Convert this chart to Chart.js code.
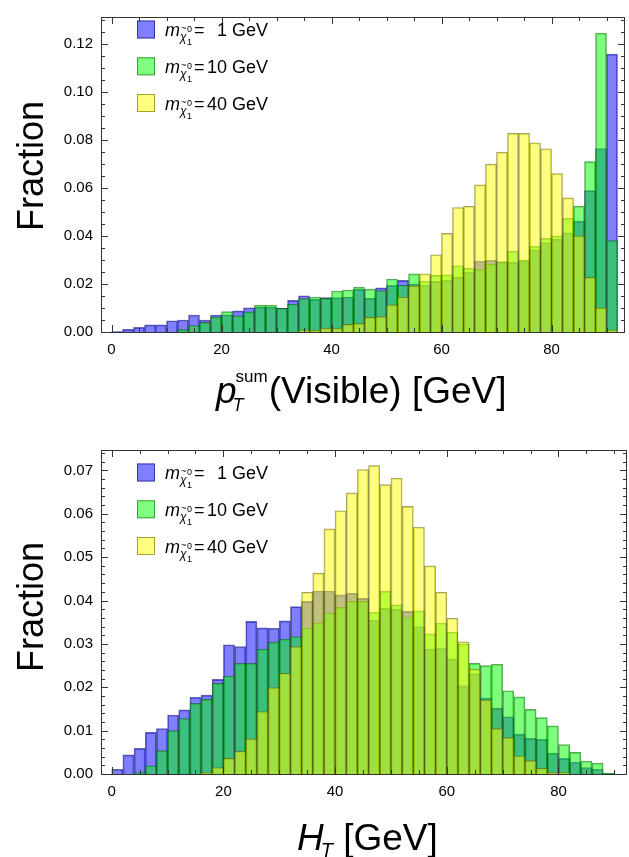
<!DOCTYPE html>
<html>
<head>
<meta charset="utf-8">
<title>Fraction histograms</title>
<script src="https://cdn.jsdelivr.net/npm/chart.js@4.4.1/dist/chart.umd.min.js"></script>
<style>
    body{ margin:0; background:#fff; }
    .panel{ position:absolute; left:0; }
</style>
</head>
<body>
<canvas id="ptChart" class="panel" width="629" height="425" style="top:0"></canvas>
<canvas id="htChart" class="panel" width="629" height="427" style="top:430px"></canvas>
<script>
/* =========================
   DATA (2 GeV bins, centres)
========================= */

const binCenters = [1,3,5,7,9,11,13,15,17,19,21,23,25,27,29,31,33,35,37,39,41,43,45,47,49,
                    51,53,55,57,59,61,63,65,67,69,71,73,75,77,79,81,83,85,87,89,91];

const massLabels = ["1", "10", "40"];

const xTicks = [0, 20, 40, 60, 80];
const ptYTicks = [0, 0.02, 0.04, 0.06, 0.08, 0.10, 0.12];
const htYTicks = [0, 0.01, 0.02, 0.03, 0.04, 0.05, 0.06, 0.07];

// p_T^sum(Visible)
const ptBlue = [0.0002,0.0011,0.0019,0.0030,0.0030,0.0047,0.0050,0.0071,0.0050,0.0071,
                0.0072,0.0088,0.0101,0.0104,0.0104,0.0100,0.0132,0.0151,0.0136,0.0143,
                0.0143,0.0146,0.0178,0.0140,0.0184,0.0195,0.0215,0.0200,0.0195,0.0211,
                0.0215,0.0229,0.0250,0.0296,0.0299,0.0292,0.0290,0.0296,0.0343,0.0373,
                0.0387,0.0413,0.0462,0.0589,0.0765,0.1158];
const ptGreen = [0,0,0,0,0,0,0.0010,0.0027,0.0040,0.0063,
                 0.0085,0.0067,0.0084,0.0112,0.0112,0.0099,0.0116,0.0139,0.0146,0.0140,
                 0.0171,0.0175,0.0187,0.0179,0.0173,0.0221,0.0195,0.0242,0.0212,0.0236,
                 0.0238,0.0276,0.0265,0.0260,0.0283,0.0292,0.0337,0.0300,0.0357,0.0390,
                 0.0401,0.0474,0.0525,0.0710,0.1246,0.0381];
const ptYellow = [0,0,0,0,0,0,0,0,0,0,
                  0,0,0,0,0,0,0,0.0009,0.0007,0.0016,
                  0.0016,0.0032,0.0036,0.0061,0.0064,0.0113,0.0146,0.0192,0.0242,0.0322,
                  0.0411,0.0519,0.0524,0.0613,0.0700,0.0750,0.0828,0.0828,0.0788,0.0764,
                  0.0660,0.0559,0.0401,0.0228,0.0101,0.0009];

// H_T
const htBlue = [0.0011,0.0044,0.0059,0.0096,0.0105,0.0136,0.0148,0.0177,0.0182,0.0218,
                0.0298,0.0294,0.0352,0.0337,0.0336,0.0353,0.0386,0.0398,0.0422,0.0422,
                0.0413,0.0417,0.0405,0.0355,0.0382,0.0380,0.0375,0.0340,0.0288,0.0290,
                0.0265,0.0203,0.0231,0.0175,0.0152,0.0132,0.0092,0.0082,0.0080,0.0048,
                0.0036,0.0027,0.0015,0.0011,0.0001];
const htGreen = [0,0,0.0003,0.0019,0.0054,0.0100,0.0128,0.0163,0.0172,0.0209,
                 0.0226,0.0255,0.0255,0.0288,0.0304,0.0311,0.0317,0.0336,0.0348,0.0371,
                 0.0384,0.0398,0.0398,0.0373,0.0421,0.0390,0.0362,0.0376,0.0323,0.0348,
                 0.0327,0.0300,0.0255,0.0250,0.0253,0.0192,0.0178,0.0149,0.0130,0.0111,
                 0.0068,0.0050,0.0030,0.0025,0.0002];
const htYellow = [0,0,0,0,0,0,0,0,0.0003,0.0015,
                  0.0036,0.0052,0.0081,0.0144,0.0199,0.0232,0.0294,0.0419,0.0463,0.0565,
                  0.0607,0.0648,0.0702,0.0711,0.0667,0.0682,0.0617,0.0569,0.0480,0.0419,
                  0.0359,0.0305,0.0242,0.0171,0.0105,0.0084,0.0042,0.0031,0.0013,0.0003,
                  0.0004,0,0,0,0];

/* =========================
   STYLE
========================= */

const FONT = "'Liberation Sans', Arial, Helvetica, sans-serif";

const colors = [
    { fill:"rgba(0,0,255,0.5)",   edge:"rgba(0,0,110,0.6)" },
    { fill:"rgba(0,255,0,0.5)",   edge:"rgba(0,100,0,0.6)" },
    { fill:"rgba(255,255,0,0.5)", edge:"rgba(100,100,0,0.6)" }
];

/* =========================
   DRAW HELPERS
========================= */

function drawFraction(ctx, cx, cy){
    ctx.save();
    ctx.translate(cx, cy);
    ctx.rotate(-Math.PI / 2);
    ctx.font = "36px " + FONT;
    ctx.fillStyle = "#000";
    ctx.textAlign = "center";
    ctx.textBaseline = "alphabetic";
    ctx.fillText("Fraction", 0, 0);
    ctx.restore();
}

function drawLegend(ctx, left, rows){
    ctx.save();
    ctx.textBaseline = "alphabetic";
    rows.forEach((cy, i)=>{
        ctx.fillStyle = colors[i].fill;
        ctx.fillRect(left, cy - 9, 18, 18);
        ctx.strokeStyle = colors[i].edge;
        ctx.lineWidth = 1;
        ctx.strokeRect(left + 0.5, cy - 8.5, 17, 17);

        const b = cy + 6.5;
        ctx.fillStyle = "#000";
        ctx.textAlign = "left";
        ctx.font = "italic 18px " + FONT;
        ctx.fillText("m", left + 28, b);
        ctx.font = "italic 12px " + FONT;
        ctx.fillText("\u03c7", left + 43, b + 5);
        ctx.font = "9px " + FONT;
        ctx.fillText("~", left + 44, b - 5);
        ctx.fillText("0", left + 50, b - 4);
        ctx.fillText("1", left + 50, b + 9);
        ctx.font = "18px " + FONT;
        ctx.fillText("=", left + 57, b);
        ctx.textAlign = "right";
        ctx.fillText(massLabels[i], left + 90, b);
        ctx.textAlign = "left";
        ctx.fillText(" GeV", left + 90, b);
    });
    ctx.restore();
}

function drawPtTitle(ctx){
    ctx.save();
    ctx.fillStyle = "#000";
    ctx.textBaseline = "alphabetic";
    let x = 216;
    const b = 403;
    ctx.font = "italic 37px " + FONT;
    ctx.fillText("p", x, b);
    x += ctx.measureText("p").width;
    ctx.font = "17px " + FONT;
    ctx.fillText("sum", x - 1, b - 21);
    const w = ctx.measureText("sum").width;
    ctx.font = "italic 18px " + FONT;
    ctx.fillText("T", x - 4, b + 8);
    x += w;
    ctx.font = "37px " + FONT;
    ctx.fillText("(Visible) [GeV]", x, b);
    ctx.restore();
}

function drawHtTitle(ctx){
    ctx.save();
    ctx.fillStyle = "#000";
    ctx.textBaseline = "alphabetic";
    let x = 297;
    const b = 420;
    ctx.font = "italic 37px " + FONT;
    ctx.fillText("H", x, b);
    x += ctx.measureText("H").width;
    ctx.font = "italic 20px " + FONT;
    ctx.fillText("T", x - 3, b + 7);
    x += ctx.measureText("T").width;
    ctx.font = "37px " + FONT;
    ctx.fillText(" [GeV]", x - 3, b);
    ctx.restore();
}

/* =========================
   FRAME + TICKS PLUGIN
========================= */

function framePlugin(cfg){
    return {
        id:"frame",
        afterDraw(chart){
            const {ctx, chartArea:a, scales} = chart;
            ctx.save();
            ctx.strokeStyle = "#333";
            ctx.lineWidth = 1;
            ctx.strokeRect(a.left + 0.5, a.top + 0.5, a.right - a.left - 1, a.bottom - a.top);

            ctx.beginPath();
            for(let v = 0; v <= cfg.xMax; v += 5){
                const px = Math.round(scales.x.getPixelForValue(v)) + 0.5;
                const len = v % 20 === 0 ? 7 : 4;
                ctx.moveTo(px, a.bottom); ctx.lineTo(px, a.bottom - len);
                ctx.moveTo(px, a.top); ctx.lineTo(px, a.top + len);
            }
            const nMinor = Math.floor(cfg.yMax / cfg.yMinor + 1e-6);
            for(let i = 0; i <= nMinor; i++){
                const v = i * cfg.yMinor;
                const py = Math.round(scales.y.getPixelForValue(v)) + 0.5;
                const len = i % cfg.perMajor === 0 ? 7 : 4;
                ctx.moveTo(a.left, py); ctx.lineTo(a.left + len, py);
                ctx.moveTo(a.right, py); ctx.lineTo(a.right - len, py);
            }
            ctx.stroke();
            ctx.restore();

            drawFraction(ctx, 43, cfg.fractionY);
            drawLegend(ctx, 137, cfg.legendRows);
            cfg.title(ctx);
        }
    };
}

/* =========================
   CHARTS
========================= */

function series(values, i, order){
    return {
        data: values.map((v, k)=>({ x: binCenters[k], y: v })),
        backgroundColor: colors[i].fill,
        borderColor: colors[i].edge,
        borderWidth: 1,
        borderSkipped: "start",
        grouped: false,
        barPercentage: 1,
        categoryPercentage: 1,
        order: order
    };
}

function buildChart(id, blue, green, yellow, yTicks, cfg){
    return new Chart(document.getElementById(id), {
        type:"bar",
        data:{
            datasets:[
                series(blue, 0, 3),
                series(green, 1, 2),
                series(yellow, 2, 1)
            ]
        },
        options:{
            responsive:false,
            animation:false,
            devicePixelRatio:1,
            layout:{ padding:{ top:cfg.padTop, right:cfg.padRight, left:0, bottom:0 } },
            plugins:{ legend:{ display:false }, tooltip:{ enabled:false } },
            scales:{
                x:{
                    type:"linear",
                    min:cfg.xMin,
                    max:cfg.xMax,
                    offset:false,
                    grid:{ display:false, drawTicks:false },
                    border:{ display:false },
                    afterBuildTicks: s => { s.ticks = xTicks.map(v => ({ value:v })); },
                    afterFit: s => { s.height = cfg.xAxisHeight; },
                    ticks:{
                        padding:9,
                        color:"#000",
                        maxRotation:0,
                        autoSkip:false,
                        font:{ family:FONT, size:15 },
                        callback: v => String(v)
                    }
                },
                y:{
                    min:0,
                    max:cfg.yMax,
                    grid:{ display:false, drawTicks:false },
                    border:{ display:false },
                    afterBuildTicks: s => { s.ticks = yTicks.map(v => ({ value:v })); },
                    afterFit: s => { s.width = 101; },
                    ticks:{
                        padding:8,
                        color:"#000",
                        font:{ family:FONT, size:15 },
                        callback: v => Number(v).toFixed(2)
                    }
                }
            }
        },
        plugins:[ framePlugin(cfg) ]
    });
}

/* =========================
   INIT
========================= */

buildChart("ptChart", ptBlue, ptGreen, ptYellow, ptYTicks, {
    padTop:7, padRight:4, xAxisHeight:93,
    xMin:-1.91, xMax:93.36, yMax:0.1313,
    yMinor:0.005, perMajor:4,
    fractionY:166, legendRows:[29.5, 66.3, 103],
    title: drawPtTitle
});

buildChart("htChart", htBlue, htGreen, htYellow, htYTicks, {
    padTop:20, padRight:2, xAxisHeight:83,
    xMin:-1.92, xMax:92.27, yMax:0.0747,
    yMinor:0.002, perMajor:5,
    fractionY:177, legendRows:[42.5, 79.3, 116],
    title: drawHtTitle
});
</script>
</body>
</html>
